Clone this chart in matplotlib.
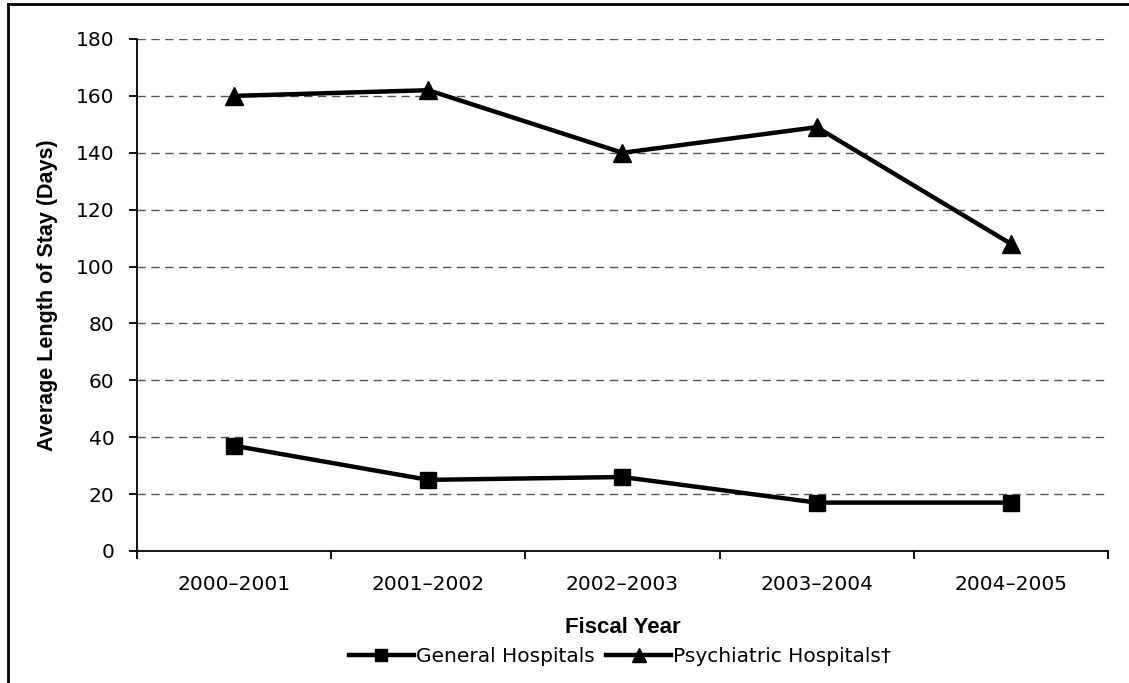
import matplotlib
matplotlib.use("Agg")
import matplotlib.pyplot as plt
from matplotlib.lines import Line2D
from matplotlib.ticker import FixedLocator, NullFormatter

# Average length of stay by fiscal year
years = ["2000\u20132001", "2001\u20132002", "2002\u20132003", "2003\u20132004", "2004\u20132005"]
general = [37, 25, 26, 17, 17]
psychiatric = [160, 162, 140, 149, 108]

fig = plt.figure(figsize=(11.29, 6.83), dpi=100)
ax = fig.add_axes([0.1213, 0.1933, 0.8601, 0.7496])

x = list(range(len(years)))
ax.plot(x, general, color="black", lw=3.2, marker="s", ms=11, label="General Hospitals", zorder=3)
ax.plot(x, psychiatric, color="black", lw=3.2, marker="^", ms=13, label="Psychiatric Hospitals\u2020", zorder=3)

ax.set_xlim(-0.5, len(years) - 0.5)
ax.set_ylim(0, 180)
ax.set_yticks(range(0, 181, 20))

# category labels sit between the boundary ticks
ax.set_xticks(x)
ax.set_xticklabels(years)
ax.tick_params(axis="x", which="major", length=0, pad=17, labelsize=14.5)
ax.xaxis.set_minor_locator(FixedLocator([i - 0.5 for i in range(len(years) + 1)]))
ax.xaxis.set_minor_formatter(NullFormatter())
ax.tick_params(axis="x", which="minor", length=6, width=1.3, direction="out")
ax.tick_params(axis="y", length=6, width=1.3, direction="out", pad=10, labelsize=14.5)

for tl in ax.get_xticklabels() + ax.get_yticklabels():
    tl.set_family("DejaVu Sans")

for y in range(20, 181, 20):
    ax.axhline(y, color="#555555", lw=1, ls=(0, (6, 4)), zorder=1)

for s in ["top", "right"]:
    ax.spines[s].set_visible(False)
for s in ["left", "bottom"]:
    ax.spines[s].set_linewidth(1.3)

ax.set_xlabel("Fiscal Year", fontsize=16, fontweight="bold", family="Liberation Sans")
ax.xaxis.set_label_coords(0.5, -0.128)
ax.set_ylabel("Average Length of Stay (Days)", fontsize=15.5, fontweight="bold", family="Liberation Sans")
ax.yaxis.set_label_coords(-0.081, 0.5)

fig.legend(loc="center", bbox_to_anchor=(620 / 1129, 1 - 657 / 683), ncol=2, frameon=False,
           handlelength=3.2, handletextpad=0.1, columnspacing=0.6,
           prop={"family": "DejaVu Sans", "size": 14.5}, markerscale=0.8)

# outer border of the chart (left and top edges)
fig.add_artist(Line2D([8 / 1129, 8 / 1129], [0, 1 - 4 / 683], transform=fig.transFigure, color="black", lw=2))
fig.add_artist(Line2D([8 / 1129, 1], [1 - 4 / 683, 1 - 4 / 683], transform=fig.transFigure, color="black", lw=2))

fig.savefig("out.png", dpi=100)
